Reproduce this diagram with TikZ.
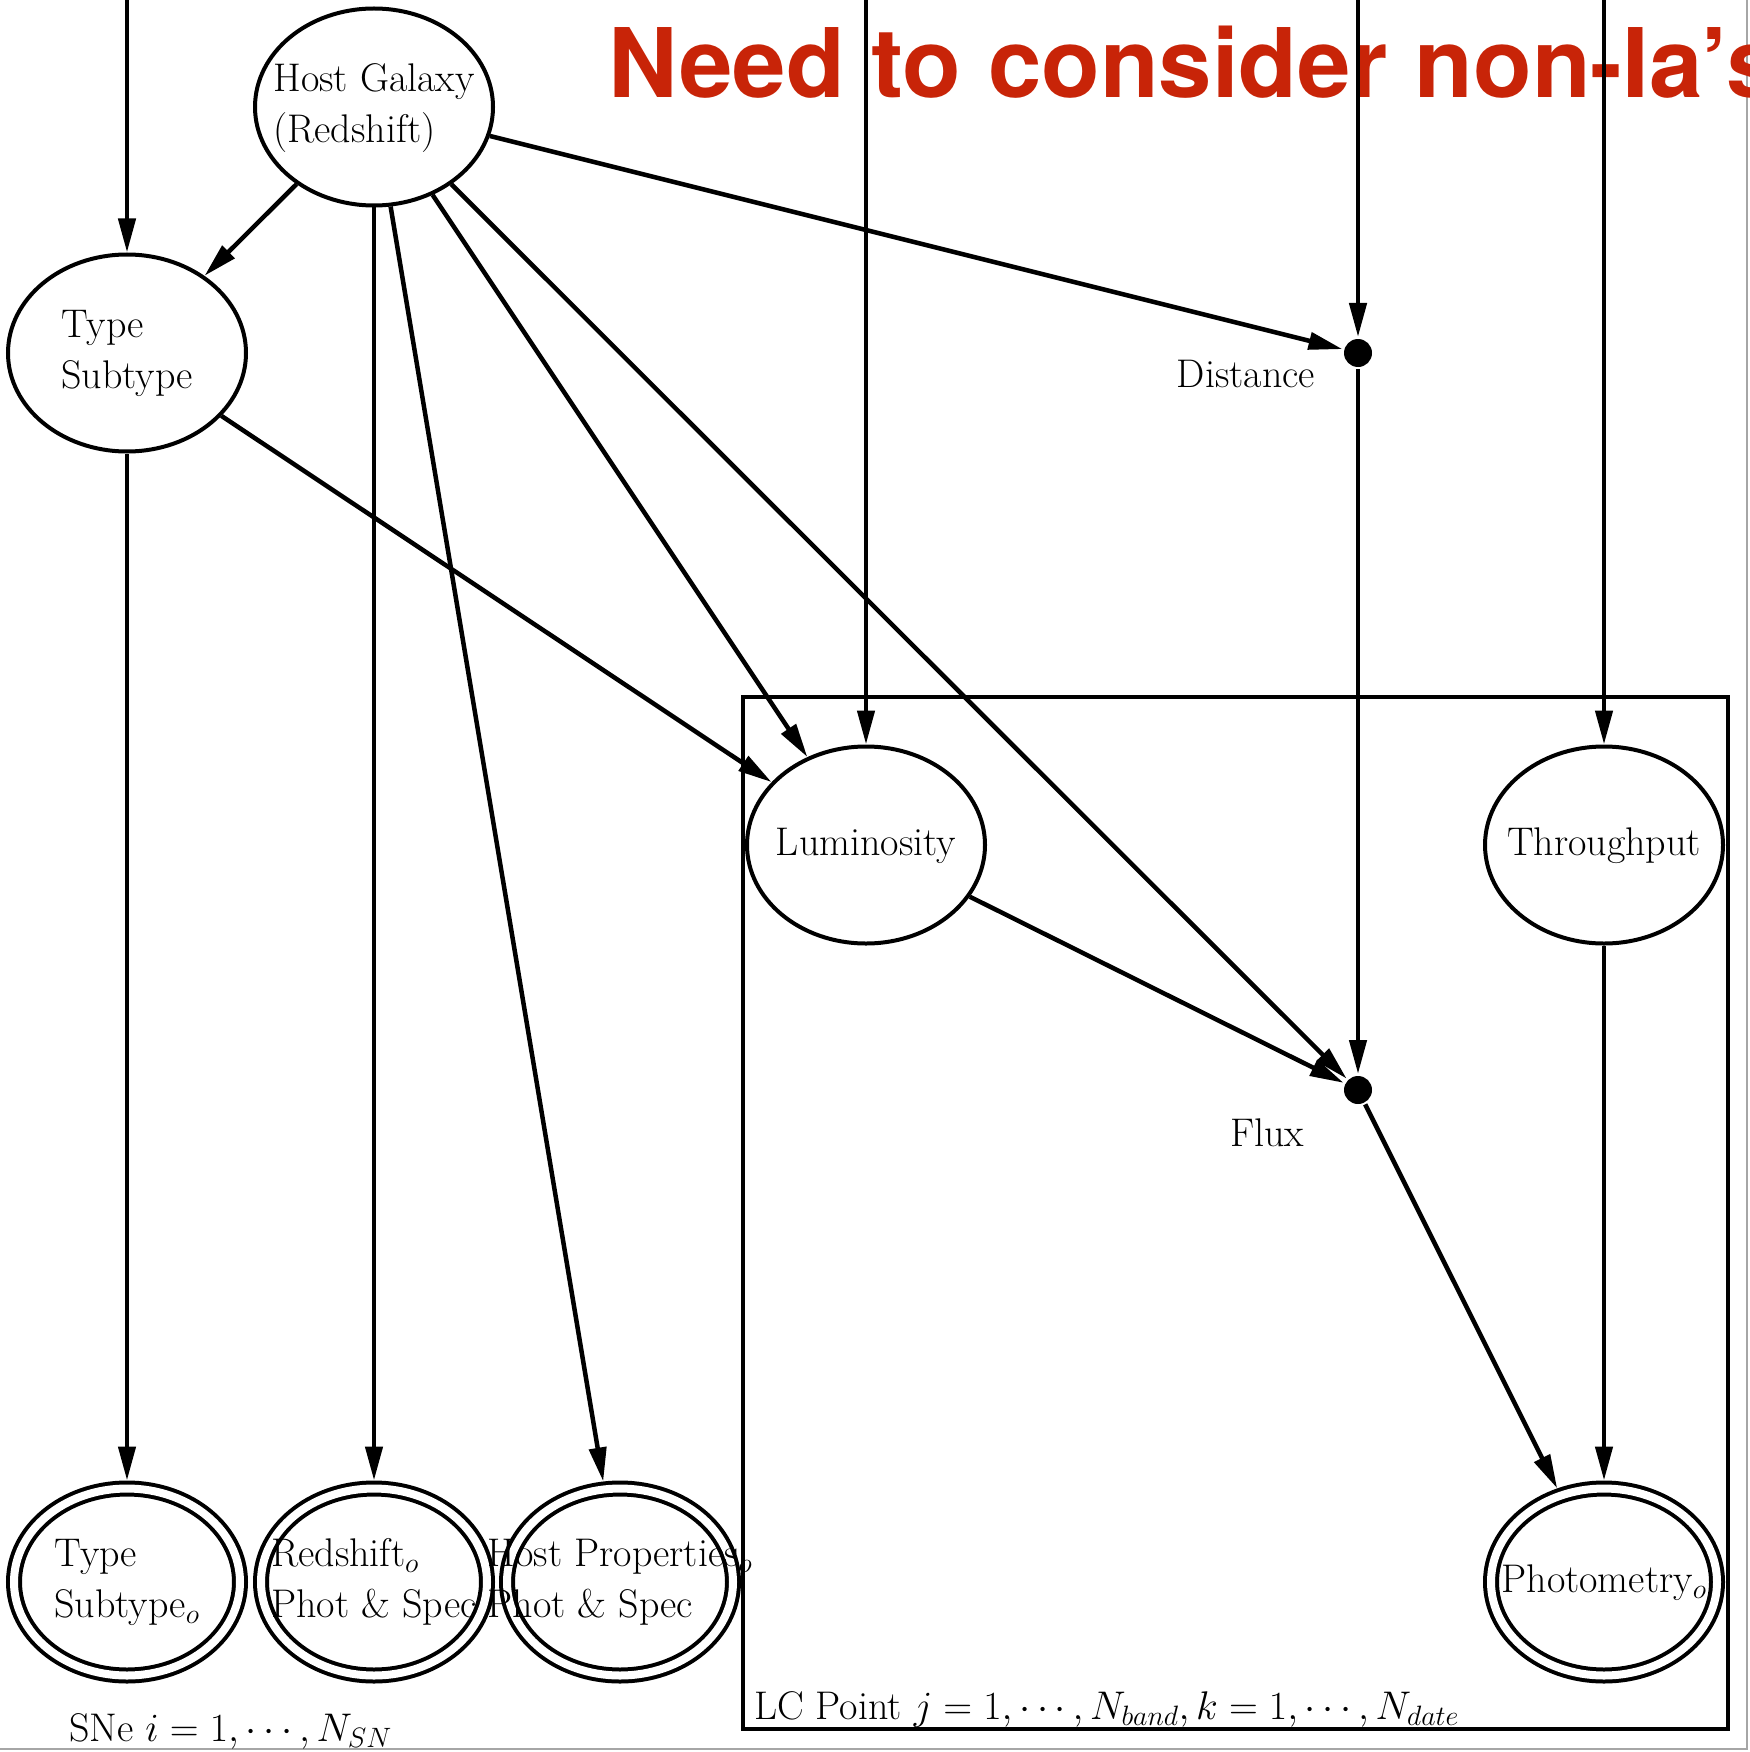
\RequirePackage{fix-cm}
\documentclass[tikz,border=0pt]{standalone}
\usepackage{fontspec}
\newfontfamily\headfont{TeX Gyre Heros}
\usetikzlibrary{arrows.meta,positioning,shapes.geometric}
\definecolor{headred}{RGB}{200,36,8}
% text that may run over the ellipse, as in the original
\newcommand{\ztext}[1]{\makebox[0pt]{\begin{tabular}{@{}l@{}}#1\end{tabular}}}
\begin{document}
\begin{tikzpicture}[x=1pt,y=-1pt,line width=4pt,
  font=\fontsize{40}{51}\selectfont,
  latent/.style={draw,ellipse,inner sep=0pt,minimum width=238pt,minimum height=197pt},
  observed/.style={draw,ellipse,double,double distance=8pt,inner sep=0pt,outer sep=8pt,minimum width=226pt,minimum height=187pt},
  detnode/.style={circle,fill,inner sep=0pt,minimum size=28pt},
  edge/.style={-{Triangle[length=34pt,width=17pt]},line width=4.5pt}]
\useasboundingbox (0,0) rectangle (1749,1752);
\draw[line width=1.5pt,black!35] (1747,0) -- (1747,1749) -- (0,1749);
\node (title) [anchor=base west,text=headred,font=\headfont\bfseries\fontsize{96}{100}\selectfont] at (603,98) {Need to consider non-Ia’s};
% plate
\draw (743,697) rectangle (1728,1729);
\node (lclabel) [anchor=base west,inner sep=0pt] at (752,1719) {LC Point $j=1,\cdots,N_{band}, k=1,\cdots,N_{date}$};
\node (snlabel) [anchor=base west,inner sep=0pt] at (67,1741) {SNe $i=1,\cdots,N_{SN}$};
% latent nodes
\node (host) [latent] at (374,107) {\ztext{Host Galaxy\\(Redshift)}};
\node (type) [latent] at (127,353) {\ztext{Type\\Subtype}};
\node (lum) [latent] at (866,845) {\ztext{Luminosity}};
\node (thru) [latent] at (1604,845) {\ztext{Throughput}};
\node (dist) [detnode] at (1358,353) {};
\node (flux) [detnode] at (1358,1090) {};
\node (distlabel) [left=25pt of dist.west,yshift=-21pt,inner sep=0pt] {Distance};
\node (fluxlabel) [left=36pt of flux.west,yshift=-43pt,inner sep=0pt] {Flux};
% observed nodes
\node (typeo) [observed] at (127,1582) {\ztext{Type\\Subtype$_o$}};
\node (zo) [observed] at (374,1582) {\ztext{Redshift$_o$\\Phot \& Spec}};
\node (hosto) [observed] at (620,1582) {\ztext{Host Properties$_o$\\Phot \& Spec}};
\node (photo) [observed] at (1604,1582) {\ztext{Photometry$_o$}};
% free ends at the top
\coordinate (intype) at (127,0);
\coordinate (inlum) at (866,0);
\coordinate (indist) at (1358,0);
\coordinate (inthru) at (1604,0);
\draw[edge] (intype) -- (type);
\draw[edge] (inlum) -- (lum);
\draw[edge] (indist) -- (dist);
\draw[edge] (inthru) -- (thru);
\draw[edge] (host) -- (type);
\draw[edge] (host) -- (dist);
\draw[edge] (host) -- (zo);
\draw[edge] (host) -- (hosto);
\draw[edge] (host) -- (lum);
\draw[edge] (host) -- (flux);
\draw[edge] (type) -- (lum);
\draw[edge] (type) -- (typeo);
\draw[edge] (lum) -- (flux);
\draw[edge] (dist) -- (flux);
\draw[edge] (thru) -- (photo);
\draw[edge] (flux) -- (photo);
\end{tikzpicture}
\end{document}
